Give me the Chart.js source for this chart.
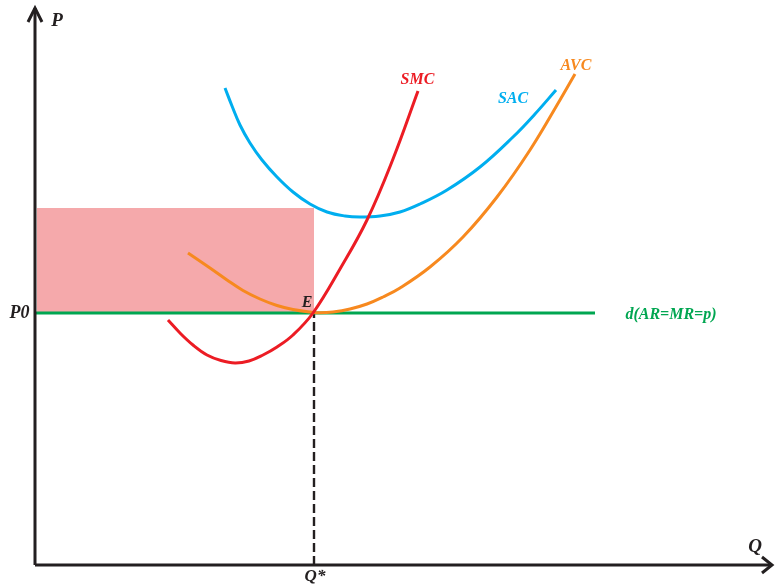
<!DOCTYPE html>
<html lang="en">
<head>
    <title>Short-run equilibrium</title>
    <script src="https://cdn.jsdelivr.net/npm/chart.js"></script>
    <style>
        body { margin: 0; background: #fff; }
        #wrap { width: 775px; height: 584px; }
    </style>
</head>
<body>
<div id="wrap"><canvas id="chart" width="775" height="584"></canvas></div>
<script>
    // curve values (Q, P)
    const sacQ = [19.0, 19.7, 20.5, 21.5, 22.7, 24.2, 25.8, 27.5, 29.2, 31.0, 32.5, 34.5, 36.5, 38.5, 41.2, 44.5, 47.8, 50.0, 52.1];
    const sacP = [47.7, 45.9, 44.0, 42.2, 40.5, 38.8, 37.3, 36.1, 35.3, 34.9, 34.8, 34.9, 35.3, 36.1, 37.5, 39.8, 42.8, 45.1, 47.5];

    const avcQ = [15.3, 17.5, 19.2, 20.8, 22.5, 24.2, 25.8, 27.5, 28.5, 29.8, 31.5, 33.2, 34.8, 36.5, 39.5, 42.8, 46.2, 49.5, 52.5, 54.0];
    const avcP = [31.2, 29.7, 28.5, 27.45, 26.6, 25.95, 25.55, 25.3, 25.22, 25.3, 25.6, 26.1, 26.8, 27.7, 29.8, 32.8, 36.8, 41.5, 46.5, 49.1];

    const smcQ = [13.3, 14.5, 15.8, 17.2, 18.6, 20.0, 21.4, 22.8, 24.2, 25.8, 27.8, 30.5, 33.2, 35.8, 38.3];
    const smcP = [24.5, 23.2, 22.0, 21.0, 20.45, 20.2, 20.4, 21.0, 21.8, 23.0, 25.2, 29.6, 34.5, 40.6, 47.4];

    const qStar = 27.9;      // equilibrium output
    const p0 = 25.2;         // market price
    const sacAtQ = 35.7;     // top of shaded rectangle
    const demandEnd = 56;    // where the demand line stops
    const qMax = 73.7, pMax = 55.7;

    function pts(xs, ys) {
        return xs.map((x, i) => ({ x: x, y: ys[i] }));
    }

    const ink = '#231f20';
    const red = '#ec1c24', blue = '#00aeef', orange = '#f7891f', green = '#00a651';
    const serif = '"Liberation Serif", "DejaVu Serif", serif';

    // arrows and text labels
    const decorations = {
        id: 'decorations',
        afterDatasetsDraw(chart) {
            const ctx = chart.ctx;
            const sx = chart.scales.x, sy = chart.scales.y;
            const px = v => sx.getPixelForValue(v);
            const py = v => sy.getPixelForValue(v);

            ctx.save();
            ctx.strokeStyle = ink;
            ctx.lineWidth = 3;
            ctx.lineJoin = 'miter';
            // axis arrow heads
            const ox = px(0), oy = py(0), ty = py(pMax), tx = px(qMax);
            ctx.beginPath();
            ctx.moveTo(ox - 7, ty + 14); ctx.lineTo(ox, ty); ctx.lineTo(ox + 7, ty + 14);
            ctx.stroke();
            ctx.beginPath();
            ctx.moveTo(tx - 10, oy - 8); ctx.lineTo(tx, oy); ctx.lineTo(tx - 10, oy + 8);
            ctx.stroke();

            const labels = [
                { t: 'P', x: 2.2, y: 54.4, c: ink, s: 19 },
                { t: 'Q', x: 72.0, y: 1.8, c: ink, s: 19 },
                { t: 'P0', x: -1.55, y: p0, c: ink, s: 18 },
                { t: 'Q*', x: qStar + 0.1, y: -1.2, c: ink, s: 17 },
                { t: 'E', x: 27.2, y: 26.2, c: ink, s: 16 },
                { t: 'SMC', x: 38.25, y: 48.5, c: red, s: 16 },
                { t: 'SAC', x: 47.8, y: 46.6, c: blue, s: 16 },
                { t: 'AVC', x: 54.1, y: 49.9, c: orange, s: 16 },
                { t: 'd(AR=MR=p)', x: 63.6, y: 25.0, c: green, s: 16 }
            ];
            ctx.textAlign = 'center';
            ctx.textBaseline = 'middle';
            labels.forEach(l => {
                ctx.font = 'italic bold ' + l.s + 'px ' + serif;
                ctx.fillStyle = l.c;
                ctx.fillText(l.t, px(l.x), py(l.y));
            });
            ctx.restore();
        }
    };

    const lineOpts = { showLine: true, pointRadius: 0, borderWidth: 3, fill: false, clip: false };
    const curveOpts = Object.assign({}, lineOpts, { tension: 0.4 });

    new Chart(document.getElementById('chart').getContext('2d'), {
        type: 'scatter',
        data: {
            datasets: [
                {
                    label: 'loss area',
                    data: pts([0.2, qStar], [sacAtQ, sacAtQ]),
                    showLine: true, pointRadius: 0, borderWidth: 0,
                    backgroundColor: '#f5a9ab',
                    fill: { value: p0 },
                    order: 10
                },
                Object.assign({}, lineOpts, { label: 'Q*', data: pts([qStar, qStar], [0, p0]), borderColor: ink, borderWidth: 2.4, borderDash: [9, 4], order: 5 }),
                Object.assign({}, lineOpts, { label: 'd', data: pts([0, demandEnd], [p0, p0]), borderColor: green, order: 4 }),
                Object.assign({}, curveOpts, { label: 'SAC', data: pts(sacQ, sacP), borderColor: blue, order: 3 }),
                Object.assign({}, curveOpts, { label: 'AVC', data: pts(avcQ, avcP), borderColor: orange, order: 2 }),
                Object.assign({}, curveOpts, { label: 'SMC', data: pts(smcQ, smcP), borderColor: red, order: 1 }),
                Object.assign({}, lineOpts, { label: 'P axis', data: pts([0, 0], [0, pMax]), borderColor: ink, order: 0 }),
                Object.assign({}, lineOpts, { label: 'Q axis', data: pts([0, qMax], [0, 0]), borderColor: ink, order: 0 })
            ]
        },
        options: {
            responsive: false,
            animation: false,
            devicePixelRatio: 1,
            layout: { padding: { left: 35, right: 0, top: 0, bottom: 19 } },
            plugins: { legend: { display: false }, tooltip: { enabled: false } },
            scales: {
                x: { type: 'linear', min: 0, max: 74, display: false },
                y: { type: 'linear', min: 0, max: 56.5, display: false }
            }
        },
        plugins: [decorations]
    });
</script>
</body>
</html>
